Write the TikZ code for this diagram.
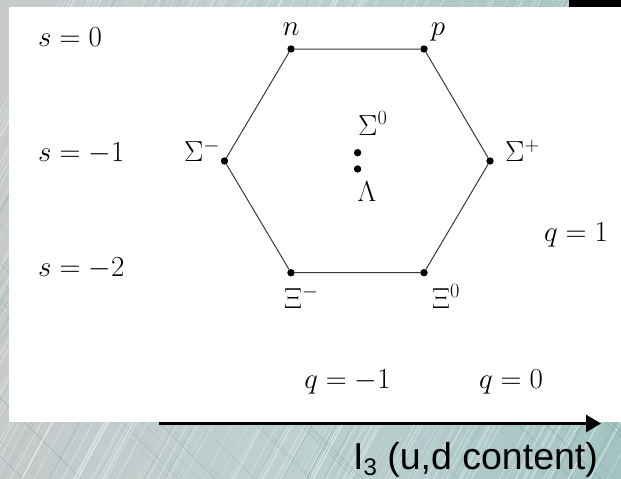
\RequirePackage{fix-cm}
\documentclass[tikz,border=0pt]{standalone}
\usepackage{fontspec}
\newfontfamily\arialfont{Liberation Sans}
\usetikzlibrary{arrows.meta}
\definecolor{bgL}{HTML}{C6CACB}
\definecolor{bgM}{HTML}{BCD0CE}
\definecolor{bgR}{HTML}{A3C3C2}
\definecolor{edgecol}{HTML}{3A3A3A}
\tikzset{
  state/.style={circle, fill=black, inner sep=0pt, minimum size=7.4pt},
  lab/.style={inner sep=0pt, font=\fontsize{29}{34}\selectfont},
  hexedge/.style={draw=edgecol, line width=1pt},
  axisarrow/.style={line width=2.8pt, -{Triangle[length=15pt,width=17pt]}},
}
\begin{document}
\begin{tikzpicture}[x=1pt,y=-1pt]
\useasboundingbox (0,0) rectangle (621,479);
% textured background
\begin{scope}
\clip (0,0) rectangle (621,479);
\shade[left color=bgL, right color=bgR, middle color=bgM] (0,0) rectangle (621,479);
\pgfmathsetseed{11}
\foreach \i in {1,...,160}{
  \pgfmathsetmacro\xa{rnd*900-200}
  \pgfmathsetmacro\op{0.15+0.35*rnd}
  \draw[white, opacity=\op, line width=0.8pt] (\xa,479) -- ++(260,-479);
}
\foreach \i in {1,...,50}{
  \pgfmathsetmacro\xa{rnd*900-200}
  \pgfmathsetmacro\op{0.05+0.12*rnd}
  \draw[black!50!teal, opacity=\op, line width=0.6pt] (\xa,479) -- ++(260,-479);
}
\foreach \i in {1,...,30}{
  \pgfmathsetmacro\xa{rnd*900-100}
  \pgfmathsetmacro\op{0.05+0.12*rnd}
  \draw[teal!70!black, opacity=\op, line width=0.7pt] (\xa,479) -- ++(-300,-300);
}
\end{scope}
\fill[black] (569,0) rectangle (621,7);
\fill[white] (9,7) rectangle (621,422);

% states
\node[state] (n)  at (291,49) {};
\node[state] (p)  at (424,49) {};
\node[state] (sm) at (224.5,161) {};
\node[state] (sp) at (490,161) {};
\node[state] (xm) at (291,272.7) {};
\node[state] (x0) at (424,272.7) {};
\node[state] (s0) at (357.6,152.7) {};
\node[state] (la) at (357.6,169) {};

\draw[hexedge] (n) -- (p) -- (sp) -- (x0) -- (xm) -- (sm) -- (n);

% particle labels
\node[lab, anchor=base] (ln) at (291,35) {$n$};
\node[lab, anchor=base] (lp) at (438,35) {$p$};
\node[lab, anchor=base west] (ls0) at (358,135) {$\Sigma^0$};
\node[lab, anchor=base] (lla) at (367,201.7) {$\Lambda$};
\node[lab, anchor=base east] (lsm) at (220,161.7) {$\Sigma^-$};
\node[lab, anchor=base west] (lsp) at (505,161.7) {$\Sigma^+$};
\node[lab, anchor=base west] (lxm) at (284,308) {$\Xi^-$};
\node[lab, anchor=base west] (lx0) at (432,308) {$\Xi^0$};

% quantum number labels
\node[lab, anchor=base west] (s0l) at (38,46.7) {$s=0$};
\node[lab, anchor=base west] (s1l) at (38,161.7) {$s=-1$};
\node[lab, anchor=base west] (s2l) at (38,276.7) {$s=-2$};
\node[lab, anchor=base] (q1l) at (576,241.7) {$q=1$};
\node[lab, anchor=base] (qm1l) at (347.5,388) {$q=-1$};
\node[lab, anchor=base] (q0l) at (511,388) {$q=0$};

% axis
\coordinate (ax0) at (159,423.5);
\coordinate (ax1) at (601,423.5);
\draw[axisarrow] (ax0) -- (ax1);
\node[inner sep=0pt, anchor=base west, font=\arialfont\fontsize{37.5}{40}\selectfont] (axl) at (353,469)
  {I\raisebox{-6pt}{\fontsize{24}{26}\selectfont 3} (u,d content)};
\end{tikzpicture}
\end{document}
